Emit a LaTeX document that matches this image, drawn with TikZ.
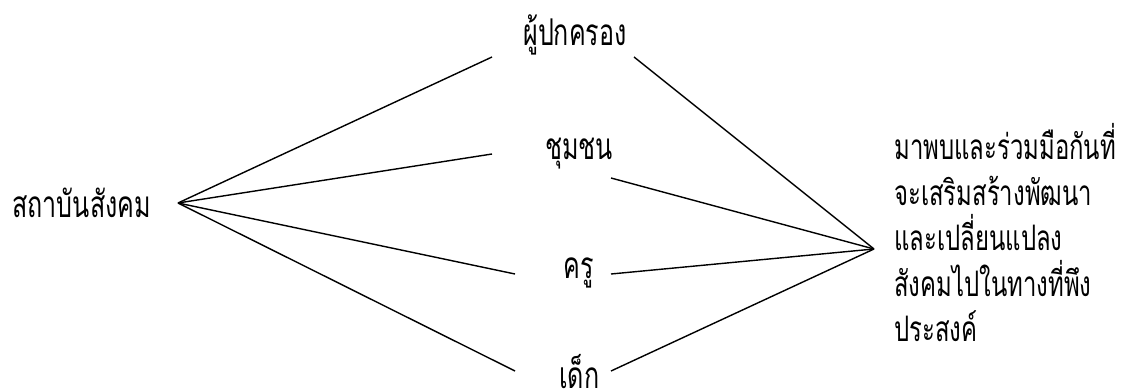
\documentclass[tikz,border=0pt]{standalone}
\usepackage{fontspec}
\setmainfont[Script=Thai,FakeStretch=0.68]{Loma}
\begin{document}
\begin{tikzpicture}[x=0.02cm,y=-0.02cm,font=\fontsize{21}{26}\selectfont,
  label/.style={anchor=base west,inner sep=0},
  goal/.style={label,font=\fontsize{20}{26}\selectfont},
  link/.style={black,line width=0.8pt}]
  \useasboundingbox (0,0) rectangle (1122,392);
  % labels
  \node[label] (inst) at (12,217) {สถาบันสังคม};
  \node[label] (parent) at (523,45) {ผู้ปกครอง};
  \node[label] (comm) at (545,159) {ชุมชน};
  \node[label] (teach) at (563,278) {ครู};
  \node[label] (child) at (559,388) {เด็ก};
  \foreach \i/\yy/\txt in {1/159/{มาพบและร่วมมือกันที่},2/205/{จะเสริมสร้างพัฒนา},
      3/250/{และเปลี่ยนแปลง},4/296/{สังคมไปในทางที่พึง},5/341/{ประสงค์}}
    \node[goal] (goal\i) at (894,\yy) {\txt};
  % line ends
  \coordinate (srcL) at (178,203);
  \coordinate (srcR) at (874,249);
  \coordinate (parentL) at (492,57);
  \coordinate (commL) at (492,154);
  \coordinate (teachL) at (515,274);
  \coordinate (childL) at (515,371);
  \coordinate (parentR) at (634,57);
  \coordinate (commR) at (611,178);
  \coordinate (teachR) at (611,274);
  \coordinate (childR) at (611,371);
  \foreach \who in {parent,comm,teach,child} {
    \draw[link] (srcL) -- (\who L);
    \draw[link] (\who R) -- (srcR);
  }
\end{tikzpicture}
\end{document}
